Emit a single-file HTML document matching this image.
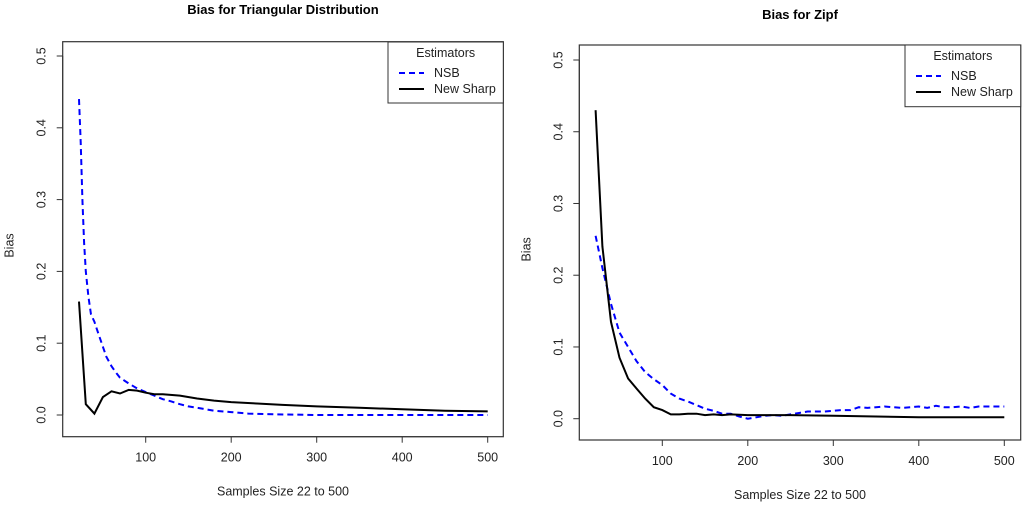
<!DOCTYPE html>
<html><head><meta charset="utf-8"><style>
html,body{margin:0;padding:0;background:#fff;}
svg{display:block;font-family:"Liberation Sans",Arial,sans-serif;}
</style></head><body>
<svg id="chart" width="1024" height="507" viewBox="0 0 1024 507" xmlns="http://www.w3.org/2000/svg"></svg>
<script>
const xTicks=[100,200,300,400,500];
const yTicks=[0.0,0.1,0.2,0.3,0.4,0.5];
const yTickLabels=["0.0","0.1","0.2","0.3","0.4","0.5"];
const titles=["Bias for Triangular Distribution","Bias for Zipf"];
const xAxisTitle="Samples Size 22 to 500";
const yAxisTitle="Bias";
const seriesNames=["NSB","New Sharp"];
// Left: triangular
const triNsbX=[22,24,26,28,30,33,36,40,43,50,54,60,66,70,80,90,100,110,120,130,140,150,160,180,200,220,250,300,400,500];
const triNsbY=[0.44,0.38,0.30,0.24,0.20,0.165,0.14,0.13,0.119,0.095,0.081,0.068,0.058,0.052,0.044,0.037,0.032,0.027,0.022,0.019,0.015,0.012,0.01,0.006,0.004,0.002,0.001,0,0,0];
const triSharpX=[22,30,40,50,60,70,80,90,100,110,120,140,160,180,200,230,260,300,350,400,450,500];
const triSharpY=[0.158,0.015,0.002,0.025,0.033,0.03,0.035,0.034,0.031,0.029,0.029,0.027,0.023,0.020,0.018,0.016,0.014,0.012,0.010,0.008,0.006,0.005];
// Right: Zipf
const zipfNsbX=[22,30,40,50,60,70,80,90,100,110,120,130,140,150,160,170,180,190,200,210,220,230,240,250,260,270,280,290,300,310,320,330,340,350,360,370,380,390,400,410,420,430,440,450,460,470,480,490,500];
const zipfNsbY=[0.255,0.21,0.16,0.12,0.1,0.08,0.065,0.055,0.047,0.035,0.028,0.024,0.019,0.014,0.011,0.007,0.007,0.003,0.0,0.002,0.004,0.005,0.004,0.006,0.008,0.01,0.01,0.01,0.011,0.012,0.012,0.016,0.015,0.016,0.017,0.016,0.015,0.016,0.017,0.015,0.018,0.016,0.016,0.017,0.015,0.017,0.017,0.017,0.017];
const zipfSharpX=[22,30,40,50,60,70,80,90,100,110,120,130,140,150,160,170,180,200,250,300,400,500];
const zipfSharpY=[0.43,0.24,0.135,0.085,0.056,0.042,0.028,0.016,0.012,0.006,0.006,0.007,0.007,0.005,0.006,0.005,0.006,0.005,0.005,0.004,0.002,0.002];

const NS="http://www.w3.org/2000/svg";
const svg=document.getElementById('chart');
function mk(tag,attrs,parent){const e=document.createElementNS(NS,tag);for(const k in attrs)e.setAttribute(k,attrs[k]);(parent||svg).appendChild(e);return e;}

const panels=[
 {box:[62.7,41.7,503.3,436.7],x100:145.7,x500:487.7,y0:415,y5:56,title:titles[0],titleY:14,
  legend:[388,42,503.3,103],series:[[triNsbX,triNsbY],[triSharpX,triSharpY]],name:'triangular'},
 {box:[579.3,45,1020.7,440],x100:662.3,x500:1004.3,y0:418.7,y5:60,title:titles[1],titleY:19,
  legend:[905,45,1020.7,106.7],series:[[zipfNsbX,zipfNsbY],[zipfSharpX,zipfSharpY]],name:'zipf'}
];
panels.forEach(p=>{
 const g=mk('g',{});
 
 
 const sx=v=>p.x100+(v-100)*(p.x500-p.x100)/400;
 const sy=v=>p.y0-(v)*(p.y0-p.y5)/0.5;
 const [bx1,by1,bx2,by2]=p.box;
 const cx=(bx1+bx2)/2;
 const t=mk('text',{x:cx,y:p.titleY,'text-anchor':'middle','font-size':13,'font-weight':'bold',fill:'#000'},g);t.textContent=p.title;
 
 
 const box=mk('rect',{x:bx1,y:by1,width:bx2-bx1,height:by2-by1,fill:'none',stroke:'#333','stroke-width':1.2},g);
 
 
 const xa=mk('g',{},g);
 
 
 mk('line',{x1:sx(xTicks[0]),x2:sx(xTicks[xTicks.length-1]),y1:by2,y2:by2,stroke:'#333'},xa);
 xTicks.forEach(v=>{mk('line',{x1:sx(v),x2:sx(v),y1:by2,y2:by2+6,stroke:'#333'},xa);
  const l=mk('text',{x:sx(v),y:by2+25,'text-anchor':'middle','font-size':12.5,fill:'#222'},xa);l.textContent=v;
  
  });
 const xt=mk('text',{x:cx,y:by2+59,'text-anchor':'middle','font-size':12.5,fill:'#222'},g);xt.textContent=xAxisTitle;
 
 
 const ya=mk('g',{},g);
 
 
 mk('line',{x1:bx1,x2:bx1,y1:sy(yTicks[0]),y2:sy(yTicks[yTicks.length-1]),stroke:'#333'},ya);
 yTicks.forEach((v,i)=>{mk('line',{x1:bx1-6,x2:bx1,y1:sy(v),y2:sy(v),stroke:'#333'},ya);
  const X=bx1-17,Y=sy(v);
  const l=mk('text',{x:X,y:Y,'text-anchor':'middle','font-size':12.5,fill:'#222',transform:`rotate(-90 ${X} ${Y})`},ya);l.textContent=yTickLabels[i];
  
  });
 const yX=bx1-49,yY=(sy(0)+sy(0.5))/2+10;
 const yt=mk('text',{x:yX,y:yY,'text-anchor':'middle','font-size':12.5,fill:'#222',transform:`rotate(-90 ${yX} ${yY})`},g);yt.textContent=yAxisTitle;
 
 
 const styles=[{stroke:'#0000ff','stroke-width':2,'stroke-dasharray':'6,4',fill:'none'},{stroke:'#000','stroke-width':2,fill:'none'}];
 p.series.forEach((s,k)=>{
  const d=s[0].map((xv,i)=>(i?'L':'M')+sx(xv).toFixed(1)+','+sy(s[1][i]).toFixed(1)).join(' ');
  const path=mk('path',Object.assign({d:d},styles[k]),g);
  
  
 });
 const [lx1,ly1,lx2,ly2]=p.legend;
 const lg=mk('g',{},g);
 
 
 mk('rect',{x:lx1,y:ly1,width:lx2-lx1,height:ly2-ly1,fill:'#fff',stroke:'#333','stroke-width':1},lg);
 const lt=mk('text',{x:(lx1+lx2)/2,y:ly1+15,'text-anchor':'middle','font-size':12.5,fill:'#222'},lg);lt.textContent='Estimators';
 seriesNames.forEach((n,k)=>{
  const yy=ly1+31+k*16;
  mk('line',Object.assign({x1:lx1+11,x2:lx1+36,y1:yy,y2:yy},styles[k]),lg);
  const e=mk('text',{x:lx1+46,y:yy+4,'font-size':12.5,fill:'#222'},lg);e.textContent=n;
  
  
 });
});
</script>
</body></html>
